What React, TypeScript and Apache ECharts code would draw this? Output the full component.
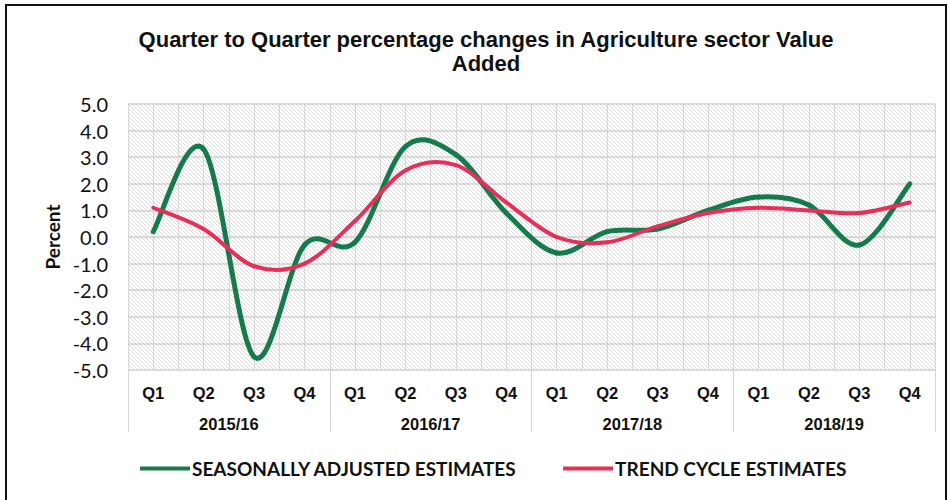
import React, { useEffect, useRef } from "react";
import * as echarts from "echarts";

const years = ["2015/16", "2016/17", "2017/18", "2018/19"];
const quarters = ["Q1", "Q2", "Q3", "Q4"];
const seasonallyAdjusted = [0.2, 3.3, -4.5, -0.3, -0.2, 3.4, 3.1, 0.9, -0.6, 0.2, 0.3, 1.0, 1.5, 1.2, -0.3, 2.0];
const trendCycle = [1.1, 0.3, -1.1, -1.0, 0.6, 2.5, 2.7, 1.3, 0.0, -0.2, 0.4, 0.9, 1.1, 1.0, 0.9, 1.3];
const yMin = -5;
const yMax = 5;
const yStep = 1;

const seriesNames = ["SEASONALLY ADJUSTED ESTIMATES", "TREND CYCLE ESTIMATES"];
const titleLines = ["Quarter to Quarter percentage changes in Agriculture sector Value", "Added"];

function curveSeries(name: string, values: number[], color: string, width: number) {
  return {
    name,
    type: "custom",
    coordinateSystem: "cartesian2d",
    xAxisIndex: 0,
    yAxisIndex: 0,
    data: values.map((v, i) => [i, v]),
    encode: { x: 0, y: 1 },
    itemStyle: { color },
    silent: true,
    renderItem: (params: any, api: any) => {
      if (params.dataIndex !== 0) return null;
      const pts = values.map((v, i) => api.coord([i, v]));
      const n = pts.length;
      const children: any[] = [];
      for (let i = 0; i < n - 1; i++) {
        const p0 = pts[Math.max(i - 1, 0)];
        const p1 = pts[i];
        const p2 = pts[i + 1];
        const p3 = pts[Math.min(i + 2, n - 1)];
        children.push({
          type: "bezierCurve",
          shape: {
            x1: p1[0],
            y1: p1[1],
            cpx1: p1[0] + (p2[0] - p0[0]) / 6,
            cpy1: p1[1] + (p2[1] - p0[1]) / 6,
            cpx2: p2[0] - (p3[0] - p1[0]) / 6,
            cpy2: p2[1] - (p3[1] - p1[1]) / 6,
            x2: p2[0],
            y2: p2[1],
          },
          style: { fill: "none", stroke: color, lineWidth: width, lineCap: "round" },
        });
      }
      return { type: "group", children };
    },
  };
}

export default function App() {
  const ref = useRef<HTMLDivElement>(null);
  useEffect(() => {
    if (!ref.current) return;
    const chart = echarts.init(ref.current, null, { renderer: "svg" });
    const categories: string[] = [];
    years.forEach(() => quarters.forEach((q) => categories.push(q)));
    const hatchSvg =
      '<svg xmlns="http://www.w3.org/2000/svg" width="4" height="4"><path d="M-1,-1 L5,5 M3,-1 L5,1 M-1,3 L1,5" stroke="#dcdcdc" stroke-width="1"/></svg>';
    const hatch = {
      image: "data:image/svg+xml;base64," + btoa(hatchSvg),
      repeat: "repeat",
      imageWidth: 4,
      imageHeight: 4,
    };
    const sans = "'Liberation Sans', Arial, sans-serif";
    const cal = "Lato, 'Open Sans', sans-serif";
    const green = "#167a4c";
    const red = "#e5305a";
    chart.setOption({
      animation: false,
      backgroundColor: "#ffffff",
      graphic: [
        {
          type: "rect",
          shape: { x: 6, y: 5, width: 940, height: 520 },
          style: { fill: "none", stroke: "#111", lineWidth: 2 },
          silent: true,
        },
        {
          type: "text",
          x: 486,
          y: 39,
          style: {
            text: titleLines[0],
            align: "center",
            verticalAlign: "middle",
            font: "bold 22px " + sans,
            fill: "#111",
          },
        },
        {
          type: "text",
          x: 486,
          y: 63,
          style: {
            text: titleLines[1],
            align: "center",
            verticalAlign: "middle",
            font: "bold 22px " + sans,
            fill: "#111",
          },
        },
      ],
      grid: {
        left: 128,
        right: 14,
        top: 104,
        bottom: 130,
        show: true,
        backgroundColor: hatch,
        borderWidth: 0,
      },
      legend: {
        left: 135,
        top: 454,
        itemWidth: 50,
        itemHeight: 4,
        itemGap: 46,
        icon: "rect",
        textStyle: {
          fontFamily: cal,
          fontWeight: "bold",
          fontSize: 19,
          color: "#111",
          padding: [0, 0, 0, -3],
        },
        data: [
          { name: seriesNames[0], itemStyle: { color: green } },
          { name: seriesNames[1], itemStyle: { color: red } },
        ],
      },
      xAxis: [
        {
          type: "category",
          data: categories,
          position: "bottom",
          boundaryGap: true,
          axisLine: { show: true, lineStyle: { color: "#d6d6d6" } },
          axisTick: { show: false },
          axisLabel: {
            interval: 0,
            margin: 14,
            fontFamily: sans,
            fontWeight: "bold",
            fontSize: 16.5,
            color: "#111",
          },
          splitLine: { show: false },
        },
        {
          type: "category",
          data: years,
          position: "bottom",
          boundaryGap: true,
          axisLine: { show: false },
          axisTick: { show: true, length: 62, interval: 0, lineStyle: { color: "#d6d6d6" } },
          axisLabel: {
            interval: 0,
            margin: 45,
            fontFamily: sans,
            fontWeight: "bold",
            fontSize: 16.5,
            color: "#111",
          },
          splitLine: { show: false },
        },
        {
          type: "value",
          min: 0,
          max: 32,
          interval: 1,
          show: true,
          position: "top",
          axisLine: { show: false },
          axisTick: { show: false },
          axisLabel: { show: false },
          splitLine: { show: true, lineStyle: { color: "#d8d8d8", width: 1 } },
        },
      ],
      yAxis: {
        type: "value",
        min: yMin,
        max: yMax,
        interval: yStep,
        name: "Percent",
        nameLocation: "middle",
        nameGap: 66,
        nameRotate: 90,
        nameTextStyle: {
          fontFamily: cal,
          fontWeight: "bold",
          fontSize: 19,
          color: "#111",
        },
        axisLine: { show: false },
        axisTick: { show: false },
        axisLabel: {
          margin: 20,
          formatter: (v: number) => v.toFixed(1),
          fontFamily: cal,
          fontSize: 20,
          color: "#111",
        },
        splitLine: { show: true, lineStyle: { color: "#d2d2d2", width: 1.5 } },
      },
      series: [
        curveSeries(seriesNames[0], seasonallyAdjusted, green, 5),
        curveSeries(seriesNames[1], trendCycle, red, 4),
      ],
    });
    return () => chart.dispose();
  }, []);
  return <div ref={ref} style={{ position: "absolute", left: 0, top: 0, width: 949, height: 500 }} />;
}
